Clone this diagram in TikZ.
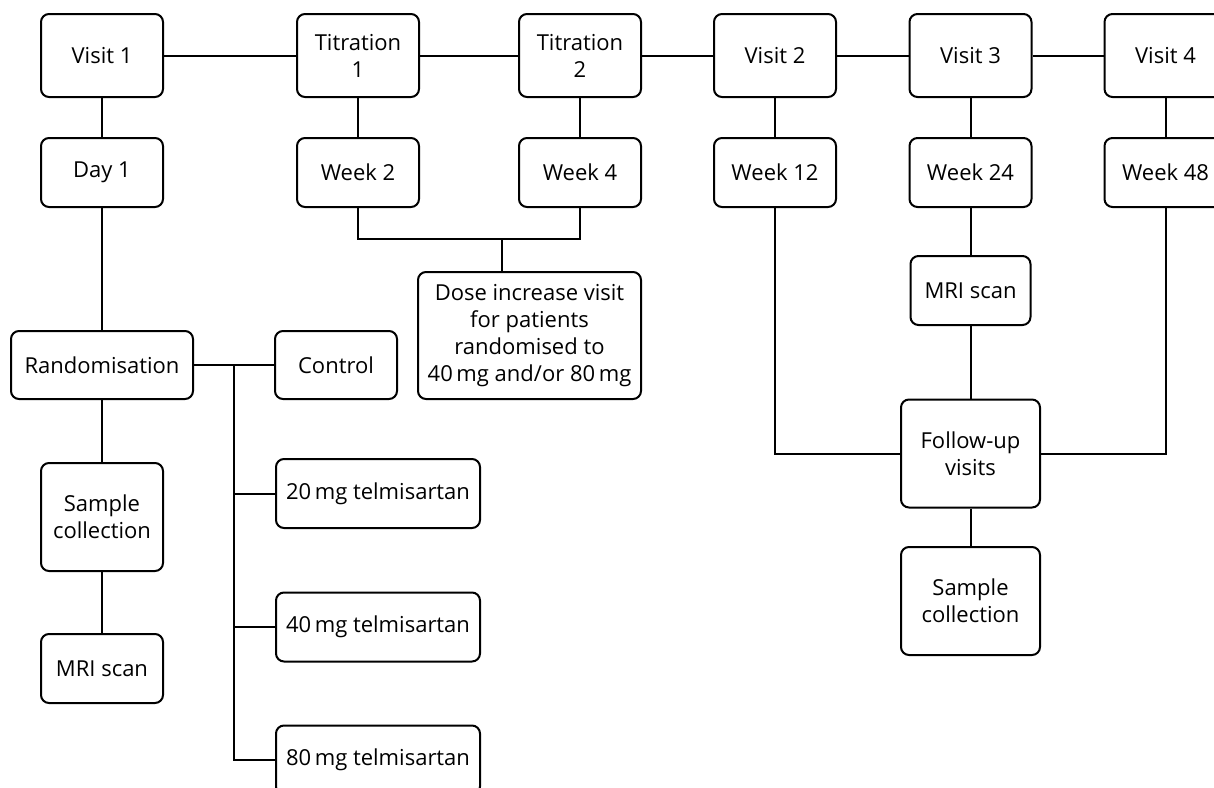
\documentclass[tikz,border=0pt]{standalone}
\usepackage{fontspec}
\setmainfont{Open Sans}

\begin{document}
\begin{tikzpicture}[x=0.5pt,y=-0.5pt,
  box/.style={draw,line width=1pt,rounded corners=4pt,align=center,inner sep=0pt,
    minimum width=61pt,minimum height=41.5pt,font=\fontsize{11}{13.5}\selectfont},
  wk/.style={box,minimum height=34.5pt},
  tall/.style={box,minimum width=69.5pt,minimum height=54pt},
  drug/.style={box,minimum width=102pt,minimum height=34.5pt},
  link/.style={line width=1pt}]

\clip (0,0) rectangle (1214,787);

% visits
\node[box] (visitA) at(102,55.5){Visit 1};
\node[box] (titrA) at(358,55.5){Titration\\1};
\node[box] (titrB) at(580,55.5){Titration\\2};
\node[box] (visitB) at(775,55.5){Visit 2};
\node[box] (visitC) at(970.5,55.5){Visit 3};
\node[box] (visitD) at(1165.5,55.5){Visit 4};

% time points
\node[wk] (dayA) at(102,172.5){Day 1};
\node[wk] (weekB) at(358,172.5){Week 2};
\node[wk] (weekD) at(580,172.5){Week 4};
\node[wk] (weekL) at(775,172.5){Week 12};
\node[wk] (weekX) at(970.5,172.5){Week 24};
\node[wk] (weekY) at(1165.5,172.5){Week 48};

\node[box,minimum width=111.5pt,minimum height=63.5pt] (dose) at(529.5,335.5){Dose increase visit\\for patients\\randomised to\\40\,mg and/or 80\,mg};

% randomisation arm
\node[box,minimum width=91pt,minimum height=34pt] (rand) at(102,365){Randomisation};
\node[box,minimum height=34pt] (ctrl) at(336,365){Control};
\node[drug] (tlmA) at(378,493.5){20\,mg telmisartan};
\node[drug] (tlmB) at(378,627){40\,mg telmisartan};
\node[drug] (tlmC) at(378,760){80\,mg telmisartan};
\node[box,minimum height=54pt] (sampL) at(102,517){Sample\\collection};
\node[wk] (mriL) at(102,668.5){MRI scan};

% follow-up
\node[wk,minimum width=60pt] (mriR) at(970.5,290.5){MRI scan};
\node[tall] (follow) at(970.5,453.5){Follow-up\\visits};
\node[tall] (sampR) at(970.5,601){Sample\\collection};

\coordinate (dosejoin) at(502,239);
\coordinate (bus) at(234,365);

\draw[link] (visitA) -- (titrA) -- (titrB) -- (visitB) -- (visitC) -- (visitD);
\foreach \a/\b in {visitA/dayA,titrA/weekB,titrB/weekD,visitB/weekL,visitC/weekX,visitD/weekY}
  \draw[link] (\a) -- (\b);

\draw[link] (weekB.south) |- (dosejoin) -| (weekD.south);
\draw[link] (dosejoin) -- (dosejoin |- dose.north);

\draw[link] (dayA) -- (rand) -- (sampL) -- (mriL);
\draw[link] (rand) -- (ctrl);
\draw[link] (bus) |- (tlmC.west);
\draw[link] (bus |- tlmA.west) -- (tlmA.west);
\draw[link] (bus |- tlmB.west) -- (tlmB.west);

\draw[link] (weekL.south) |- (follow.west);
\draw[link] (weekY.south) |- (follow.east);
\draw[link] (weekX) -- (mriR) -- (follow) -- (sampR);

\end{tikzpicture}
\end{document}
